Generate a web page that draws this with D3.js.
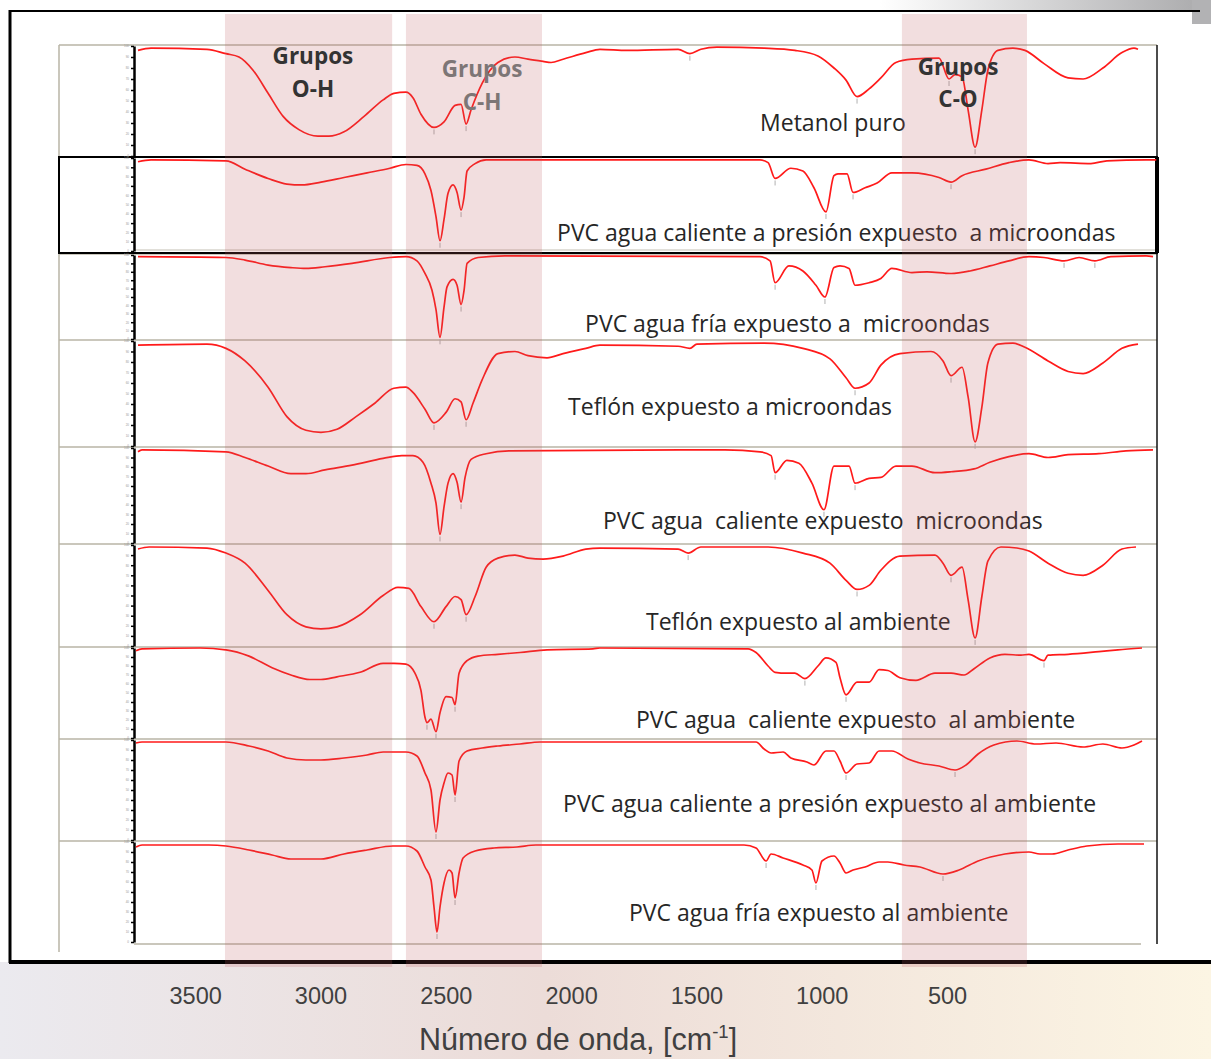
<!DOCTYPE html>
<html>
<head>
<meta charset="utf-8">
<script src="https://cdn.jsdelivr.net/npm/d3@7"></script>
<style>
  body { margin: 0; background: #fff; }
  svg { display: block; }
  text { white-space: pre; }
</style>
</head>
<body>
<svg id="chart"></svg>
<script>
// Axis tick labels as printed under the plot (cm-1)
const tickValues = [3500, 3000, 2500, 2000, 1500, 1000, 500]

// Spectra, [wavenumber, %T], top to bottom
const metanolPuro = [[3728,96],[3676,98],[3453,97],[3377,93],[3325,90],[3269,78],[3209,57],[3149,36],[3086,24],[3010,18],[2966,18],[2906,22],[2826,36],[2750,51],[2707,57],[2659,58],[2631,53],[2599,38],[2547,26],[2507,31],[2463,46],[2439,47],[2419,29],[2399,42],[2355,66],[2292,85],[2224,90],[2172,88],[2112,86],[2080,85],[2032,88],[1941,94],[1885,97],[1777,96],[1573,97],[1526,93],[1482,97],[1418,99],[1230,98],[1107,96],[1015,91],[951,80],[903,69],[859,54],[811,61],[764,71],[704,85],[640,88],[532,89],[492,70],[468,74],[440,72],[416,42],[388,8],[361,42],[337,78],[297,96],[237,98],[189,96],[113,84],[17,71],[-43,70],[-122,80],[-198,94],[-246,98],[-262,97]]
const pvcCalientePresionMicro = [[3728,96],[3676,98],[3377,97],[3301,88],[3209,78],[3134,72],[3074,71],[2998,74],[2906,79],[2814,84],[2723,89],[2659,93],[2615,92],[2583,83],[2559,65],[2539,37],[2523,11],[2507,34],[2491,62],[2471,71],[2455,63],[2439,44],[2427,58],[2415,86],[2383,94],[2339,98],[1246,98],[1214,95],[1186,78],[1123,89],[1075,86],[1031,68],[983,42],[951,81],[935,83],[899,83],[875,63],[827,68],[779,73],[720,84],[640,84],[532,79],[484,74],[440,81],[345,88],[253,95],[173,98],[97,94],[49,95],[-74,94],[-138,97],[-294,98],[-335,98]]
const pvcFriaMicro = [[3728,98],[3377,97],[3301,94],[3209,88],[3118,85],[3058,84],[2982,86],[2874,90],[2723,97],[2659,98],[2615,93],[2583,78],[2555,58],[2539,35],[2523,2],[2507,38],[2495,62],[2471,71],[2455,64],[2439,41],[2427,58],[2415,90],[2371,97],[2264,99],[1246,98],[1206,93],[1186,67],[1131,87],[1075,81],[1023,64],[987,50],[951,85],[927,87],[891,84],[867,64],[811,67],[764,72],[720,84],[640,79],[580,80],[484,78],[408,81],[329,87],[253,93],[173,98],[113,97],[33,93],[-27,97],[-90,93],[-154,98],[-294,99],[-322,98]]
const teflonMicro = [[3728,96],[3453,97],[3377,93],[3301,81],[3209,56],[3134,28],[3058,15],[2998,13],[2934,16],[2858,28],[2782,41],[2707,55],[2659,56],[2631,51],[2583,35],[2547,22],[2499,32],[2463,45],[2439,42],[2419,25],[2391,41],[2355,63],[2292,88],[2224,90],[2172,86],[2096,84],[2032,88],[1941,93],[1885,96],[1573,95],[1526,93],[1498,97],[1230,98],[1075,93],[967,83],[903,65],[867,55],[811,60],[764,77],[688,88],[564,90],[516,81],[484,67],[440,75],[416,47],[388,4],[361,37],[337,79],[297,97],[237,98],[189,94],[97,81],[17,71],[-43,69],[-122,79],[-198,93],[-262,97]]
const pvcCalienteMicro = [[3728,96],[3712,98],[3377,96],[3301,90],[3209,81],[3118,73],[3058,73],[2982,77],[2874,82],[2750,89],[2675,92],[2631,92],[2591,85],[2559,63],[2539,42],[2523,9],[2507,38],[2491,63],[2471,73],[2455,64],[2439,43],[2423,69],[2399,88],[2339,94],[2248,97],[1386,98],[1246,96],[1202,92],[1186,74],[1139,87],[1091,84],[1039,63],[991,35],[951,81],[891,81],[867,63],[811,68],[764,69],[704,81],[640,81],[548,74],[484,75],[392,78],[329,85],[253,91],[173,94],[97,90],[17,93],[-106,94],[-214,97],[-322,98]]
const teflonAmbiente = [[3728,96],[3684,98],[3453,97],[3377,92],[3301,82],[3209,55],[3134,31],[3058,19],[2998,17],[2934,19],[2842,31],[2750,50],[2691,58],[2647,57],[2599,39],[2547,24],[2499,39],[2463,49],[2439,46],[2419,31],[2383,49],[2339,78],[2292,87],[2224,90],[2172,87],[2112,86],[2032,89],[1941,96],[1885,97],[1573,96],[1533,92],[1482,98],[1214,98],[1075,92],[967,82],[903,65],[859,56],[811,60],[764,75],[688,89],[548,90],[516,82],[484,70],[440,78],[416,46],[388,8],[361,49],[337,84],[285,98],[221,97],[173,94],[97,82],[17,72],[-43,70],[-122,80],[-198,96],[-254,98]]
const pvcCalienteAmbiente = [[3736,97],[3712,99],[3480,100],[3377,98],[3285,91],[3193,78],[3118,70],[3042,65],[2998,65],[2934,68],[2842,73],[2750,83],[2707,83],[2659,82],[2623,72],[2599,53],[2583,23],[2575,17],[2559,21],[2539,7],[2523,28],[2499,46],[2475,45],[2463,37],[2447,72],[2415,86],[2371,91],[2292,93],[2204,95],[2096,98],[1913,99],[1885,100],[1294,99],[1262,95],[1214,80],[1186,73],[1139,72],[1107,72],[1067,66],[1015,80],[983,89],[943,84],[927,67],[903,48],[859,62],[811,62],[771,76],[736,75],[688,67],[624,64],[548,72],[484,72],[432,70],[392,77],[329,89],[269,93],[205,92],[173,93],[113,86],[97,92],[17,93],[-106,96],[-182,98],[-278,100]]
const pvcCalientePresionAmbiente = [[3736,97],[3712,98],[3377,98],[3285,94],[3209,89],[3134,82],[3058,80],[2998,80],[2906,82],[2814,85],[2750,88],[2659,88],[2615,84],[2583,67],[2559,50],[2539,8],[2523,40],[2507,57],[2491,67],[2475,65],[2463,45],[2447,79],[2415,89],[2355,92],[2292,94],[2204,96],[2124,98],[1262,98],[1230,91],[1202,87],[1154,88],[1123,82],[1059,78],[1031,75],[983,89],[951,89],[927,79],[903,67],[859,76],[811,77],[771,89],[720,89],[656,81],[608,77],[532,74],[468,70],[424,75],[376,86],[313,95],[221,99],[145,96],[65,97],[-43,93],[-122,96],[-198,92],[-246,95],[-278,99]]
const pvcFriaAmbiente = [[3736,95],[3712,97],[3445,97],[3377,96],[3285,92],[3193,87],[3118,83],[3074,83],[2998,83],[2906,88],[2814,92],[2711,96],[2659,96],[2615,91],[2583,75],[2559,62],[2547,35],[2535,10],[2523,35],[2507,59],[2487,72],[2475,69],[2463,44],[2447,69],[2431,84],[2383,91],[2308,94],[2216,95],[2140,97],[1310,97],[1262,94],[1222,81],[1202,88],[1154,84],[1075,77],[1039,72],[1023,59],[999,81],[951,86],[927,79],[903,69],[875,72],[827,75],[771,80],[736,80],[672,77],[608,75],[516,68],[452,72],[376,81],[269,88],[173,90],[129,88],[81,88],[17,92],[-58,96],[-182,98],[-286,98]]

const spectra = [metanolPuro, pvcCalientePresionMicro, pvcFriaMicro, teflonMicro, pvcCalienteMicro,
  teflonAmbiente, pvcCalienteAmbiente, pvcCalientePresionAmbiente, pvcFriaAmbiente]

const sampleNames = [
  'Metanol puro',
  'PVC agua caliente a presión expuesto  a microondas',
  'PVC agua fría expuesto a  microondas',
  'Teflón expuesto a microondas',
  'PVC agua  caliente expuesto  microondas',
  'Teflón expuesto al ambiente',
  'PVC agua  caliente expuesto  al ambiente',
  'PVC agua caliente a presión expuesto al ambiente',
  'PVC agua fría expuesto al ambiente'
]
// where each name starts, [wavenumber, %T of its own panel]
const nameAnchors = [[1246,23],[2056,11],[1944,8],[2012,30],[1873,15],[1701,16],[1741,11],[2032,28],[1769,21]]

// highlighted absorption regions
const bandNames = ['O-H', 'C-H', 'C-O']
const bandFrom = [3381, 2659, 680]
const bandTo = [2714, 2116, 181]
const bandLabelAt = [[3030, 83, 54], [2355, 71, 42], [456, 73, 45]] // wavenumber, %T line 1, %T line 2
const bandLabelColor = ['#333', '#7d7676', '#333']

// layout
const W = 1211
const H = 1059
const panels = [[45,157],[157,252],[254,340],[340,447],[447,544],[544,647],[647,739],[739,841],[841,943]]
const plotLeft = 59
const plotRight = 1157
const axisX = 134

const svg = d3.select('#chart').attr('width', W).attr('height', H)
  .style('font-family', '"Open Sans", "Noto Sans", sans-serif')

const x = d3.scaleLinear().domain([3740, -270]).range([135, 1140])

// backgrounds
const defs = svg.append('defs')
const bg = defs.append('linearGradient').attr('id', 'bottomBg')
bg.append('stop').attr('offset', '0%').attr('stop-color', '#ebeaef')
bg.append('stop').attr('offset', '45%').attr('stop-color', '#ecdcd8')
bg.append('stop').attr('offset', '100%').attr('stop-color', '#fcf5e3')
const topBg = defs.append('linearGradient').attr('id', 'topBg')
topBg.append('stop').attr('offset', '0%').attr('stop-color', '#fff')
topBg.append('stop').attr('offset', '100%').attr('stop-color', '#a9a9ab')

svg.append('rect').attr('width', W).attr('height', H).attr('fill', '#fff')
svg.append('rect').attr('x', 0).attr('y', 962).attr('width', W).attr('height', H - 962).attr('fill', 'url(#bottomBg)')
svg.append('rect').attr('x', 880).attr('y', 0).attr('width', W - 880).attr('height', 11).attr('fill', 'url(#topBg)')
svg.append('rect').attr('x', 1192).attr('y', 0).attr('width', W - 1192).attr('height', 24).attr('fill', '#b2b2b4')

// outer frame
const frame = svg.append('g').attr('stroke', '#000').attr('fill', 'none')
frame.append('line').attr('x1', 10).attr('x2', 10).attr('y1', 10).attr('y2', 963).attr('stroke-width', 3)
frame.append('line').attr('x1', 9).attr('x2', 1200).attr('y1', 11).attr('y2', 11).attr('stroke-width', 2)
frame.append('line').attr('x1', 9).attr('x2', W).attr('y1', 962).attr('y2', 962).attr('stroke-width', 4)

// plot grid
const gridColor = '#b9b4a6'
const grid = svg.append('g')
grid.append('line').attr('x1', plotLeft).attr('x2', plotLeft).attr('y1', 45).attr('y2', 952)
  .attr('stroke', gridColor).attr('stroke-width', 1.5)
panels.forEach(([top], i) => {
  if (i === 1) return
  grid.append('line').attr('x1', plotLeft).attr('x2', plotRight).attr('y1', top).attr('y2', top)
    .attr('stroke', gridColor).attr('stroke-width', 1.5)
})
grid.append('line').attr('x1', axisX).attr('x2', 1141).attr('y1', 944).attr('y2', 944)
  .attr('stroke', gridColor).attr('stroke-width', 1.5)
grid.append('line').attr('x1', axisX).attr('x2', plotRight).attr('y1', 250).attr('y2', 250)
  .attr('stroke', '#c4c0b4').attr('stroke-width', 1.2)
grid.append('line').attr('x1', plotRight).attr('x2', plotRight).attr('y1', 45).attr('y2', 944)
  .attr('stroke', '#111').attr('stroke-width', 1.5)
// selected panel gets a black box
grid.append('rect').attr('x', plotLeft).attr('y', 157).attr('width', plotRight - plotLeft).attr('height', 96)
  .attr('fill', 'none').attr('stroke', '#000').attr('stroke-width', 2)
grid.append('line').attr('x1', plotRight).attr('x2', plotRight).attr('y1', 157).attr('y2', 253)
  .attr('stroke', '#000').attr('stroke-width', 4)

// per-panel y axes and spectra
const line = d3.line().curve(d3.curveMonotoneX)
spectra.forEach((data, i) => {
  const [top, bottom] = panels[i]
  const y = d3.scaleLinear().domain([0, 100]).range([bottom - 1, top + 1])

  const ax = svg.append('g').attr('transform', `translate(${axisX},0)`)
    .call(d3.axisLeft(y).ticks(10).tickSize(3).tickSizeOuter(0).tickFormat(d3.format('d')))
  ax.select('.domain').attr('stroke', '#000').attr('stroke-width', 2.5)
  ax.selectAll('.tick line').attr('stroke', '#000').attr('stroke-width', 1.5)
  ax.selectAll('.tick text').attr('font-size', 3).attr('fill', '#999').attr('x', -5)

  const pts = data.map(d => [x(d[0]), y(d[1])])

  // little grey peak markers under clear minima
  const minima = pts.filter((p, k) => k > 0 && k < pts.length - 1 &&
    p[1] - pts[k - 1][1] > 3 && p[1] - pts[k + 1][1] > 3)
  svg.append('g').selectAll('line').data(minima).join('line')
    .attr('x1', d => d[0]).attr('x2', d => d[0])
    .attr('y1', d => d[1] + 2).attr('y2', d => d[1] + 7)
    .attr('stroke', '#b0b0b0').attr('stroke-width', 1)

  svg.append('path')
    .attr('fill', 'none')
    .attr('stroke', '#ff1a1a')
    .attr('stroke-width', 1.7)
    .attr('stroke-linejoin', 'round')
    .attr('d', line(pts))

  const [nv, nt] = nameAnchors[i]
  svg.append('text')
    .attr('x', x(nv))
    .attr('y', y(nt))
    .attr('font-size', 23)
    .attr('fill', '#262626')
    .text(sampleNames[i])
})

// pink highlight bands over the whole stack
const bandG = svg.append('g')
bandNames.forEach((name, i) => {
  bandG.append('rect')
    .attr('x', x(bandFrom[i]))
    .attr('y', 14)
    .attr('width', x(bandTo[i]) - x(bandFrom[i]))
    .attr('height', 953)
    .attr('fill', 'rgb(190,90,95)')
    .attr('opacity', 0.2)
})

// group labels
const yTop = d3.scaleLinear().domain([0, 100]).range([157, 45])
bandNames.forEach((name, i) => {
  const [v, t1, t2] = bandLabelAt[i]
  const g = svg.append('g')
    .attr('text-anchor', 'middle')
    .attr('font-weight', 'bold')
    .attr('font-size', 22.5)
    .attr('fill', bandLabelColor[i])
  g.append('text').attr('x', x(v)).attr('y', yTop(t1)).text('Grupos')
  g.append('text').attr('x', x(v)).attr('y', yTop(t2)).text(name)
})

// printed wavenumber axis
const xAxis = svg.append('g')
  .attr('transform', 'translate(0,980)')
  .call(d3.axisBottom(x).tickValues(tickValues).tickSize(0).tickFormat(d3.format('d')))
xAxis.select('.domain').remove()
xAxis.selectAll('.tick text')
  .attr('dy', '0.71em')
  .attr('y', 7)
  .attr('font-family', '"Liberation Sans", Arial, sans-serif')
  .attr('font-size', 23.5)
  .attr('fill', '#404040')

const title = svg.append('text')
  .attr('x', 578)
  .attr('y', 1050)
  .attr('text-anchor', 'middle')
  .attr('font-family', '"Liberation Sans", Arial, sans-serif')
  .attr('font-size', 30.5)
  .attr('fill', '#404040')
title.append('tspan').text('Número de onda, [cm')
title.append('tspan').attr('dy', -12).attr('font-size', 18.5).text('-1')
title.append('tspan').attr('dy', 12).text(']')
</script>
</body>
</html>
